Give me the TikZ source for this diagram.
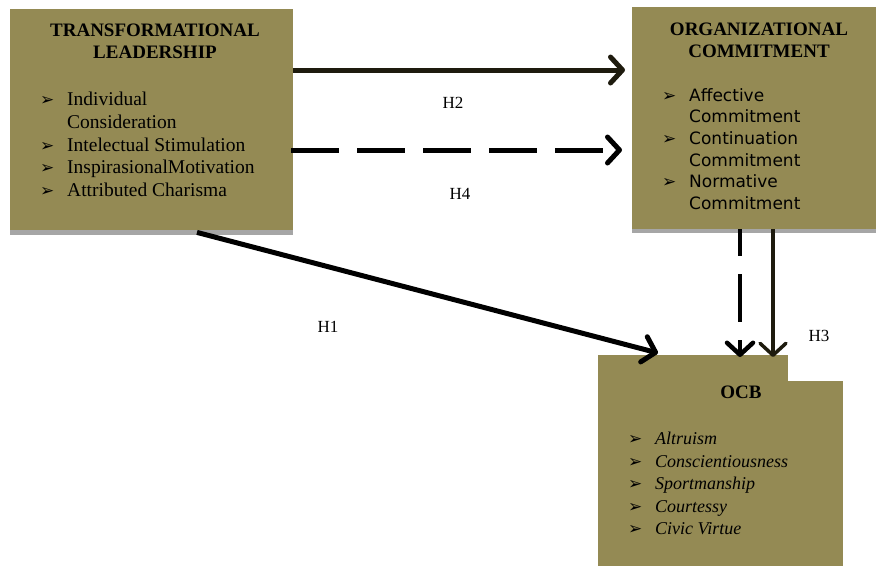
\documentclass[tikz,border=0pt]{standalone}
\usepackage{fontspec}
\setmainfont{Liberation Serif}
\newfontfamily\tahoma{DejaVu Sans}
\newfontfamily\dingfont{DejaVu Sans}
\usetikzlibrary{arrows.meta, positioning, calc}
\definecolor{olivebox}{RGB}{148,138,84}
\definecolor{shadowgrey}{RGB}{166,166,166}
\definecolor{darkink}{RGB}{30,27,14}
\newcommand{\bul}{\makebox[27pt][l]{\dingfont\fontsize{17}{17}\selectfont ➢}}
\newcommand{\gap}{\hspace*{27pt}}

\begin{document}
\begin{tikzpicture}[x=1pt, y=-1pt,
  box/.style={fill=olivebox, inner sep=0pt, anchor=north west},
  shade/.style={fill=shadowgrey},
  head/.style={font=\fontsize{19}{22}\selectfont\bfseries, align=center, inner sep=0pt},
  items/.style={inner sep=0pt, anchor=north west, align=left},
  hyp/.style={font=\fontsize{17}{20}\selectfont, inner sep=0pt},
  link/.style={line width=5pt, -{Straight Barb[length=12pt, width=26pt, round]}}
]
  \useasboundingbox (0,0) rectangle (876,566);

  % Boxes
  \node[box, minimum width=283pt, minimum height=221pt] (tl) at (10,9) {};
  \fill[shade] (tl.south west) rectangle ([yshift=-5pt]tl.south east);
  \node[box, minimum width=244pt, minimum height=222pt] (oc) at (632,7) {};
  \fill[shade] (oc.south west) rectangle ([yshift=-4pt]oc.south east);
  \node[box, minimum width=190pt, minimum height=27pt] (ocbtop) at (598,355) {};
  \node[box, minimum width=245pt, minimum height=185pt] (ocb) at (598,381) {};

  % Transformational leadership
  \node[head] (tlhead) at (155,41) {TRANSFORMATIONAL\\LEADERSHIP};
  \node[items, font=\fontsize{19.5}{22.7}\selectfont] (tllist) at (40,92) {
    \bul Individual\\
    \gap Consideration\\
    \bul Intelectual Stimulation\\
    \bul InspirasionalMotivation\\
    \bul Attributed Charisma
  };

  % Organizational commitment
  \node[head] (ochead) at (759,40) {ORGANIZATIONAL\\COMMITMENT};
  \node[items, font=\tahoma\fontsize{17}{21.7}\selectfont] (oclist) at (662,88) {
    \bul Affective\\
    \gap Commitment\\
    \bul Continuation\\
    \gap Commitment\\
    \bul Normative\\
    \gap Commitment
  };

  % OCB
  \node[head] (ocbhead) at (741,392) {OCB};
  \node[items, font=\itshape\fontsize{18}{22.5}\selectfont] (ocblist) at (628,432) {
    \bul Altruism\\
    \bul Conscientiousness\\
    \bul Sportmanship\\
    \bul Courtessy\\
    \bul Civic Virtue
  };

  % Hypotheses
  \draw[link, darkink] ([yshift=-61pt]tl.north east) -- ([xshift=-7pt, yshift=-63pt]oc.north west);
  \draw[link, black, dash pattern=on 48pt off 18pt] ([xshift=-2pt, yshift=-141pt]tl.north east) -- ([xshift=-10pt, yshift=-143pt]oc.north west);
  \draw[link, black] ([xshift=187pt, yshift=-2pt]tl.south west) -- ([xshift=60pt, yshift=2pt]ocbtop.north west);
  \draw[link, black, line width=4.5pt, dash pattern=on 48pt off 18pt, dash phase=21pt] ([xshift=108pt]oc.south west) -- ([xshift=142pt, yshift=-2pt]ocbtop.north west);
  \draw[link, darkink, line width=3.5pt] ([xshift=141pt]oc.south west) -- ([xshift=175pt, yshift=-2pt]ocbtop.north west);

  \node[hyp] (h2) at (453,103) {H2};
  \node[hyp] (h4) at (460,194) {H4};
  \node[hyp] (h1) at (328,327) {H1};
  \node[hyp] (h3) at (819,336) {H3};
\end{tikzpicture}
\end{document}
